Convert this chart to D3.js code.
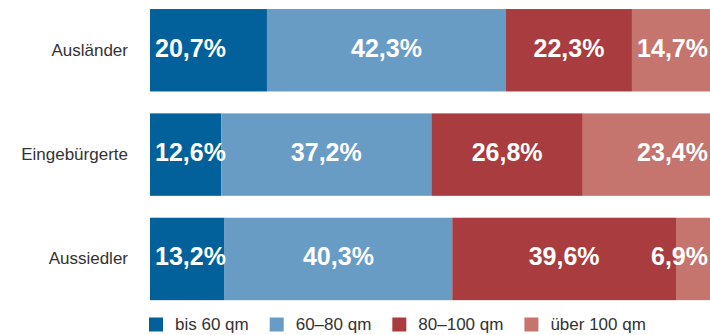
<!DOCTYPE html>
<html>
<head>
<meta charset="utf-8">
<script src="https://cdn.jsdelivr.net/npm/d3@7"></script>
<style>
  body { margin: 0; background: #fff; }
  svg { display: block; font-family: "Liberation Sans", Arial, sans-serif; }
</style>
</head>
<body>
<script>
var width = 710, height = 335;

// data
var categories = ["Ausländer", "Eingebürgerte", "Aussiedler"];
var seriesNames = ["bis 60 qm", "60–80 qm", "80–100 qm", "über 100 qm"];
var bis60 = [20.7, 12.6, 13.2];
var qm60bis80 = [42.3, 37.2, 40.3];
var qm80bis100 = [22.3, 26.8, 39.6];
var ueber100 = [14.7, 23.4, 6.9];
var colors = ["#02609a", "#699cc5", "#a93c3e", "#c5756e"];

// build table for the stack
var table = categories.map(function(c, i) {
  return {
    cat: c,
    "bis 60 qm": bis60[i],
    "60–80 qm": qm60bis80[i],
    "80–100 qm": qm80bis100[i],
    "über 100 qm": ueber100[i]
  };
});

var svg = d3.select('body').append('svg').attr('width', width).attr('height', height);

var x = d3.scaleLinear().domain([0, 100]).range([150, 715]);
var y = d3.scaleBand().domain(categories).range([-1.4, 310.6]).paddingInner(0.21).paddingOuter(0.1);
var color = d3.scaleOrdinal().domain(seriesNames).range(colors);

var stacked = d3.stack().keys(seriesNames)(table);

// bars
var layers = svg.selectAll('g.layer')
  .data(stacked)
  .join('g')
  .attr('class', 'layer')
  .attr('fill', function(d) { return color(d.key); });

layers.selectAll('rect')
  .data(function(d) { return d; })
  .join('rect')
  .attr('x', function(d) { return x(d[0]); })
  .attr('y', function(d) { return y(d.data.cat); })
  .attr('width', function(d) { return x(d[1]) - x(d[0]); })
  .attr('height', y.bandwidth());

// value labels: first left aligned, last right aligned, others centred
var fmt = function(v) { return v.toFixed(1).replace('.', ',') + '%'; };
stacked.forEach(function(layer, li) {
  svg.append('g').selectAll('text')
    .data(layer)
    .join('text')
    .attr('x', function(d) {
      if (li === 0) return x(d[0]) + 5;
      if (li === stacked.length - 1) return width - 2;
      return (x(d[0]) + x(d[1])) / 2;
    })
    .attr('y', function(d) { return y(d.data.cat) + y.bandwidth() / 2 + 6.5; })
    .attr('text-anchor', li === 0 ? 'start' : (li === stacked.length - 1 ? 'end' : 'middle'))
    .attr('fill', '#fff')
    .attr('font-weight', 'bold')
    .attr('font-size', 25)
    .text(function(d) { return fmt(d[1] - d[0]); });
});

// category labels
svg.append('g').selectAll('text')
  .data(categories)
  .join('text')
  .attr('x', 128)
  .attr('y', function(d) { return y(d) + y.bandwidth() / 2 + 5.5; })
  .attr('text-anchor', 'end')
  .attr('fill', '#333')
  .attr('font-size', 17)
  .text(function(d) { return d; });

// legend
var legend = svg.append('g').attr('transform', 'translate(149,317.5)');
var lx = 0;
seriesNames.forEach(function(s) {
  var g = legend.append('g').attr('transform', 'translate(' + lx + ',0)');
  g.append('rect').attr('width', 14).attr('height', 14).attr('fill', color(s));
  var t = g.append('text')
    .attr('x', 26)
    .attr('y', 12)
    .attr('fill', '#333')
    .attr('font-size', 17)
    .text(s);
  lx += 26 + t.node().getComputedTextLength() + 21;
});
</script>
</body>
</html>
